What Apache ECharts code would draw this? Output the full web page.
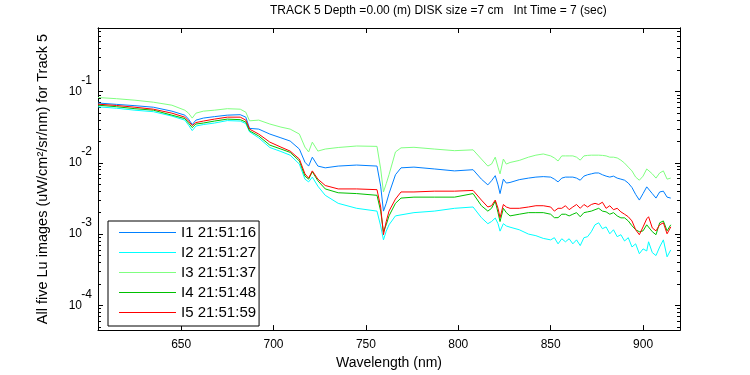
<!DOCTYPE html>
<html>
<head>
<meta charset="utf-8">
<script src="https://cdn.jsdelivr.net/npm/echarts@6/dist/echarts.min.js"></script>
<style>
  html, body { margin: 0; padding: 0; background: #fff; }
  #chart { width: 750px; height: 375px; }
</style>
</head>
<body>
<div id="chart"></div>
<script>
// wavelength (nm)
var wavelength = [605, 615, 625, 635, 645, 652, 654, 656, 658, 662, 668, 675, 682, 685, 687, 692, 698, 704, 709, 714,
  717, 719, 721, 724, 728, 735, 745, 756, 758, 759.5, 761, 762.5, 766, 769, 776, 787, 798, 808, 812.5, 816,
  818, 820, 821.5, 822.6, 824.4, 826, 828, 833, 838, 842, 846, 850, 852, 854, 856, 858, 860, 862, 864, 866,
  868, 870, 872, 874, 876, 878, 880, 882, 884, 886, 888, 890, 892, 894, 896, 898, 900, 902, 903, 905,
  907, 909, 911, 913, 915];

var seriesNames = ['I1 21:51:16', 'I2 21:51:27', 'I3 21:51:37', 'I4 21:51:48', 'I5 21:51:59'];
var seriesColors = ['#0080ff', '#00ffff', '#80ff80', '#00c000', '#ff0000'];

var lu1 = [.069, .066, .0633, .0602, .053, .0466, .041, .0344, .0397, .0424, .0444, .0466, .0473, .0437, .0304, .0297, .0253, .0224, .0202, .0156,
  .0102, .0090, .0120, .0090, .0085, .0090, .0093, .0090, .0047, .0021, .0027, .0037, .0068, .0085, .0087, .0082, .0077, .0080, .0059, .0049,
  .0056, .0066, .0049, .0037, .0059, .0052, .0053, .0058, .0061, .0063, .0064, .0063, .0059, .0054, .0061, .0063, .0063, .0063, .0061, .0057,
  .0065, .0068, .0070, .0072, .0072, .0068, .0065, .0063, .0065, .0061, .0059, .0057, .0052, .0045, .0036, .0030, .0037, .0046, .0047, .0037,
  .0032, .0039, .0040, .0033, .0032];
var lu2 = [.061, .0583, .0547, .0521, .0452, .0397, .0338, .0283, .0328, .0344, .0361, .0391, .0385, .0355, .0272, .0224, .0164, .0144, .0128, .0096,
  .0059, .0054, .0063, .0047, .0035, .0027, .0023, .0021, .0013, .00083, .0011, .00135, .0018, .00186, .0020, .0021, .0023, .0024, .0017, .0014,
  .0015, .00168, .0014, .0011, .0014, .0013, .00125, .00115, .0010, .00095, .00087, .00083, .00089, .00073, .00086, .00078, .00086, .00073, .00083, .00069,
  .00089, .00092, .00108, .00135, .00144, .00119, .00126, .00101, .00115, .00092, .00098, .0008, .00089, .00066, .00073, .00053, .00062, .00058, .00078, .00055,
  .0005, .00066, .00083, .00048, .0006];
var lu3 = [.0824, .0793, .0755, .0708, .0643, .0547, .0497, .0424, .0497, .053, .0547, .0574, .0565, .0513, .0388, .0397, .035, .0317, .0297, .0253,
  .0166, .0142, .0195, .0146, .0156, .0164, .0172, .0170, .0082, .0039, .0051, .0068, .0142, .0162, .0165, .0156, .0148, .0152, .0113, .0090,
  .0096, .0120, .0087, .0070, .0113, .0096, .0101, .0108, .0120, .0128, .0133, .0125, .0117, .0106, .0125, .0125, .0125, .0125, .0120, .0109,
  .0125, .0127, .0128, .0128, .0128, .0127, .0125, .0120, .0120, .0117, .0109, .0099, .0087, .0077, .0063, .0057, .0065, .0082, .0085, .0070,
  .0061, .0072, .0077, .0059, .0061];
var lu4 = [.0643, .0612, .0574, .0547, .0466, .0417, .0361, .0312, .035, .0361, .0385, .041, .0403, .0373, .0281, .0238, .0177, .0156, .014, .0106,
  .0065, .0059, .0075, .0056, .0043, .0038, .0037, .0035, .0021, .00108, .00135, .0018, .0027, .0032, .0033, .0033, .0033, .0037, .0025, .0021,
  .0023, .0029, .0020, .0015, .0023, .0020, .0018, .0019, .0020, .0020, .0020, .0019, .0017, .0017, .0019, .0019, .0018, .0019, .0020, .00175,
  .0020, .00205, .0021, .0022, .0023, .0021, .00205, .0019, .0020, .0018, .00169, .00169, .00153, .00131, .00115, .00108, .00111, .00135, .00144, .00108,
  .00098, .00144, .00153, .00111, .00135];
var lu5 = [.0664, .0637, .0602, .0565, .0497, .0437, .0385, .0333, .0367, .0385, .041, .0437, .0437, .0397, .0297, .0253, .0195, .0166, .0146, .0113,
  .0070, .0061, .0077, .0059, .0048, .0043, .0043, .0042, .0024, .00098, .0015, .0021, .0031, .0039, .0039, .0040, .0040, .0041, .0030, .0024,
  .0025, .0030, .0023, .0017, .0026, .0024, .0023, .0023, .0024, .0025, .0025, .0024, .0021, .0023, .0023, .0025, .0022, .0024, .0026, .0023,
  .0026, .0024, .0026, .0027, .0026, .0028, .0023, .0025, .0022, .0023, .00205, .0019, .00175, .00153, .00115, .00098, .00126, .00164, .00175, .00122,
  .00111, .00135, .00144, .00101, .00126];

var xTicks = [650, 700, 750, 800, 850, 900];
var yMajorTicks = [1e-4, 1e-3, 1e-2, 1e-1];
var yMinorSteps = [2, 3, 4, 5, 6, 7, 8, 9];

var titleText = 'TRACK 5 Depth =0.00 (m) DISK size =7 cm   Int Time = 7 (sec)';
var xName = 'Wavelength (nm)';
var yName = 'All five Lu images (uW/cm\u00b2/sr/nm) for Track 5';

var font = "'Liberation Sans', Arial, Helvetica, sans-serif";
var yMin = 0.000045, yMax = 0.778;

// minor log ticks 2..9 x 10^n inside the visible range
var yMinorTicks = [];
[1e-5, 1e-4, 1e-3, 1e-2, 1e-1].forEach(function (d) {
  yMinorSteps.forEach(function (s) {
    var v = s * d;
    if (v > yMin && v < yMax) yMinorTicks.push(v);
  });
});

var lists = [lu1, lu2, lu3, lu4, lu5];

function pairs(vals) {
  return wavelength.map(function (w, i) { return [w, vals[i]]; });
}

var myChart = echarts.init(document.getElementById('chart'));

function xAxisOf(pos, labels) {
  return {
    type: 'value', position: pos, min: 605, max: 920,
    name: labels ? xName : '', nameLocation: 'middle', nameGap: 24,
    nameTextStyle: { fontFamily: font, fontSize: 14, color: '#000' },
    axisLine: { show: true, onZero: false, lineStyle: { color: '#000', width: 1 } },
    axisTick: { show: true, inside: true, length: 5, customValues: xTicks, lineStyle: { color: '#000' } },
    axisLabel: { show: labels, customValues: xTicks, margin: 9, fontFamily: font, fontSize: 12, color: '#000' },
    splitLine: { show: false }
  };
}

// part: 'base' draws "10", 'exp' draws the raised exponent, null draws no label
function yAxisOf(pos, ticks, len, part) {
  var label = { show: false };
  if (part === 'base') {
    label = {
      show: true, customValues: yMajorTicks, margin: 16,
      fontFamily: font, fontSize: 12, color: '#000',
      formatter: function () { return '10'; }
    };
  } else if (part === 'exp') {
    // second (blank) line pushes the exponent above the tick
    label = {
      show: true, customValues: yMajorTicks, margin: 6, lineHeight: 22,
      fontFamily: font, fontSize: 12, color: '#000',
      formatter: function (v) { return Math.round(Math.log10(v)) + '\n '; }
    };
  }
  return {
    type: 'log', position: pos, min: yMin, max: yMax, logBase: 10,
    name: part === 'base' ? yName : '', nameLocation: 'middle', nameGap: 48,
    nameTextStyle: { fontFamily: font, fontSize: 14.5, color: '#000' },
    axisLine: { show: true, onZero: false, lineStyle: { color: '#000', width: 1 } },
    axisTick: { show: true, inside: true, length: len, customValues: ticks, lineStyle: { color: '#000' } },
    axisLabel: label,
    splitLine: { show: false }
  };
}

var option = {
  animation: false,
  backgroundColor: '#fff',
  title: {
    text: titleText, left: 270, top: 5, padding: 0,
    textStyle: { fontFamily: font, fontSize: 12, fontWeight: 'normal', color: '#000' }
  },
  grid: { left: 98, right: 70, top: 28, bottom: 44, containLabel: false },
  legend: {
    data: seriesNames,
    orient: 'vertical', left: 108, top: 221,
    padding: [4, 3, 6, 11],
    itemWidth: 57, itemHeight: 14, itemGap: 5,
    icon: 'path://M0,0H57V1H0Z',
    borderColor: '#000', borderWidth: 1, borderRadius: 0, backgroundColor: '#fff',
    textStyle: { fontFamily: font, fontSize: 15, color: '#000' }
  },
  xAxis: [xAxisOf('bottom', true), xAxisOf('top', false)],
  yAxis: [
    yAxisOf('left', yMajorTicks, 5, 'base'),
    yAxisOf('left', yMinorTicks, 3, 'exp'),
    yAxisOf('right', yMajorTicks, 5, null),
    yAxisOf('right', yMinorTicks, 3, null)
  ],
  series: lists.map(function (vals, i) {
    return {
      name: seriesNames[i],
      type: 'line',
      xAxisIndex: 0, yAxisIndex: 0,
      symbol: 'none',
      lineStyle: { width: 1, color: seriesColors[i] },
      itemStyle: { color: seriesColors[i] },
      data: pairs(vals)
    };
  })
};

myChart.setOption(option);
</script>
</body>
</html>
